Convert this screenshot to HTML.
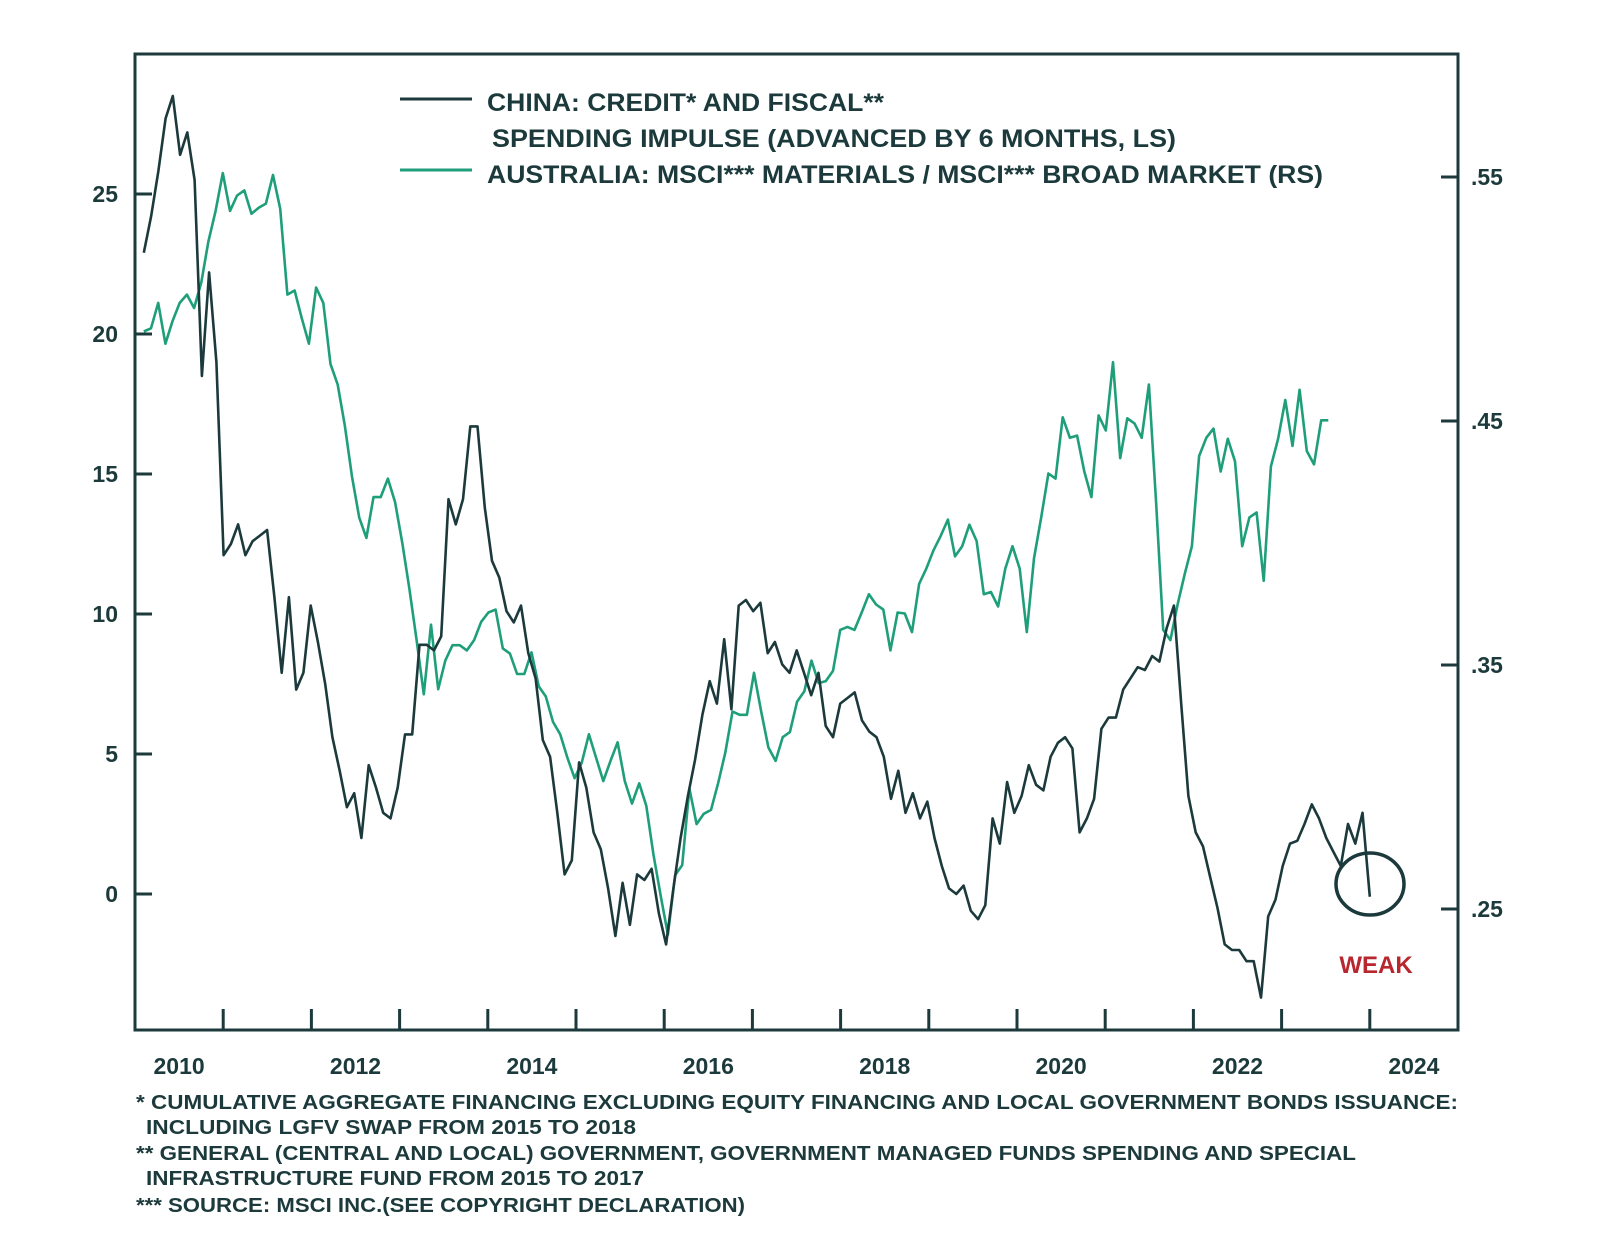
<!DOCTYPE html>
<html><head><meta charset="utf-8"><style>
html,body{margin:0;padding:0;background:#fff;}
svg{display:block;font-family:"Liberation Sans",sans-serif;}
</style></head><body>
<svg id="chart" width="1600" height="1256" viewBox="0 0 1600 1256" xmlns="http://www.w3.org/2000/svg">
<rect x="0" y="0" width="1600" height="1256" fill="#fff"/>
<g id="plot"></g>
<g font-weight="bold" font-size="25" fill="#1c3a3c">
<line x1="400" y1="99" x2="472" y2="99" stroke="#1c3a3c" stroke-width="3"/>
<text x="487" y="111" textLength="397" lengthAdjust="spacingAndGlyphs">CHINA: CREDIT* AND FISCAL**</text>
<text x="492" y="147" textLength="684" lengthAdjust="spacingAndGlyphs">SPENDING IMPULSE (ADVANCED BY 6 MONTHS, LS)</text>
<line x1="400" y1="170" x2="472" y2="170" stroke="#1f9e7a" stroke-width="3"/>
<text x="487" y="183" textLength="836" lengthAdjust="spacingAndGlyphs">AUSTRALIA: MSCI*** MATERIALS / MSCI*** BROAD MARKET (RS)</text>
</g>
<g font-weight="bold" font-size="20" fill="#1c3a3c">
<text x="136" y="1109" textLength="1322" lengthAdjust="spacingAndGlyphs">* CUMULATIVE AGGREGATE FINANCING EXCLUDING EQUITY FINANCING AND LOCAL GOVERNMENT BONDS ISSUANCE:</text>
<text x="146" y="1134" textLength="490" lengthAdjust="spacingAndGlyphs">INCLUDING LGFV SWAP FROM 2015 TO 2018</text>
<text x="136" y="1160" textLength="1220" lengthAdjust="spacingAndGlyphs">** GENERAL (CENTRAL AND LOCAL) GOVERNMENT, GOVERNMENT MANAGED FUNDS SPENDING AND SPECIAL</text>
<text x="146" y="1185" textLength="498" lengthAdjust="spacingAndGlyphs">INFRASTRUCTURE FUND FROM 2015 TO 2017</text>
<text x="136" y="1212" textLength="609" lengthAdjust="spacingAndGlyphs">***  SOURCE: MSCI INC.(SEE COPYRIGHT DECLARATION)</text>
</g>
<ellipse cx="1370" cy="884" rx="34" ry="31" fill="none" stroke="#1c3a3c" stroke-width="3.5"/>
<text x="1376" y="973" text-anchor="middle" font-weight="bold" font-size="24" fill="#b8262f">WEAK</text>
</svg>
<script>
const leftTicks = [0, 5, 10, 15, 20, 25];
const rightTicks = [0.25, 0.35, 0.45, 0.55];
const rightTickLabels = [".25", ".35", ".45", ".55"];
const yearLabels = [2010, 2012, 2014, 2016, 2018, 2020, 2022, 2024];
const yearTicks = [2011,2012,2013,2014,2015,2016,2017,2018,2019,2020,2021,2022,2023,2024];
const chinaStart = 2010.10;
const chinaEnd = 2024.0;
const chinaValues = [22.9,24.2,25.8,27.7,28.5,26.4,27.2,25.5,18.5,22.2,19.0,12.1,12.5,13.2,12.1,12.6,12.8,13.0,10.6,7.9,10.6,7.3,7.9,10.3,9.0,7.5,5.6,4.4,3.1,3.6,2.0,4.6,3.8,2.9,2.7,3.8,5.7,5.7,8.9,8.9,8.7,9.2,14.1,13.2,14.1,16.7,16.7,13.8,11.9,11.3,10.1,9.7,10.3,8.6,7.7,5.5,4.9,2.9,0.7,1.2,4.7,3.8,2.2,1.6,0.2,-1.5,0.4,-1.1,0.7,0.5,0.9,-0.7,-1.8,0.2,2.0,3.5,4.8,6.4,7.6,6.8,9.1,6.6,10.3,10.5,10.1,10.4,8.6,9.0,8.2,7.9,8.7,7.9,7.1,7.9,6.0,5.6,6.8,7.0,7.2,6.2,5.8,5.6,4.9,3.4,4.4,2.9,3.6,2.7,3.3,2.0,1.0,0.2,0.0,0.3,-0.6,-0.9,-0.4,2.7,1.8,4.0,2.9,3.5,4.6,3.9,3.7,4.9,5.4,5.6,5.2,2.2,2.7,3.4,5.9,6.3,6.3,7.3,7.7,8.1,8.0,8.5,8.3,9.5,10.3,6.8,3.5,2.2,1.7,0.6,-0.5,-1.8,-2.0,-2.0,-2.4,-2.4,-3.7,-0.8,-0.2,1.0,1.8,1.9,2.5,3.2,2.7,2.0,1.5,1.0,2.5,1.8,2.9,-0.1];
const ausStart = 2010.10;
const ausEnd = 2023.53;
const ausValues = [.4867,.4880,.4984,.4817,.4909,.4984,.5018,.4963,.5068,.5236,.5361,.5516,.5361,.5424,.5445,.5349,.5374,.5391,.5508,.5370,.5018,.5035,.4921,.4817,.5047,.4984,.4733,.4649,.4482,.4272,.4105,.4021,.4188,.4188,.4264,.4167,.4000,.3812,.3602,.3380,.3665,.3401,.3518,.3581,.3581,.3560,.3602,.3677,.3715,.3727,.3568,.3547,.3463,.3463,.3552,.3413,.3371,.3267,.3216,.3120,.3036,.3099,.3216,.3120,.3024,.3107,.3183,.3024,.2932,.3015,.2923,.2722,.2554,.2395,.2638,.2680,.2994,.2848,.2890,.2906,.3015,.3141,.3309,.3296,.3296,.3468,.3309,.3162,.3107,.3204,.3225,.3350,.3392,.3518,.3426,.3434,.3476,.3644,.3656,.3644,.3715,.3790,.3748,.3727,.3560,.3715,.3711,.3635,.3832,.3895,.3970,.4029,.4096,.3945,.3987,.4075,.4008,.3790,.3799,.3740,.3895,.3987,.3895,.3635,.3937,.4105,.4285,.4264,.4515,.4431,.4440,.4293,.4188,.4523,.4461,.4741,.4348,.4511,.4490,.4431,.4649,.4167,.3644,.3602,.3748,.3874,.3987,.4356,.4431,.4469,.4293,.4427,.4335,.3987,.4105,.4125,.3845,.4314,.4427,.4586,.4398,.4628,.4377,.4322,.4503,.4503];

const NS = "http://www.w3.org/2000/svg";
const DARK = "#1c3a3c", GREEN = "#1f9e7a";
const L = 135, R = 1458, T = 54, B = 1030;
function xScale(yr){ return L + (yr - 2010) * 88.2; }
function yLeft(v){ return 894 - v * 28; }
function yRight(v){ return 909 - (v - 0.25) * 2440; }
const plot = document.getElementById("plot");
function mk(tag, attrs, parent){ const e = document.createElementNS(NS, tag); for (const k in attrs) e.setAttribute(k, attrs[k]); (parent||plot).appendChild(e); return e; }

function seriesPath(vals, start, end, yf){
  const n = vals.length; let d = "";
  vals.forEach((v,i)=>{ const yr = start + (end-start)*i/(n-1); d += (i?"L":"M") + xScale(yr).toFixed(1) + "," + yf(v).toFixed(1); });
  return d;
}
const aus = mk("path", {d: seriesPath(ausValues, ausStart, ausEnd, yRight), fill:"none", stroke:GREEN, "stroke-width":"2.6", "stroke-linejoin":"round"});


const china = mk("path", {d: seriesPath(chinaValues, chinaStart, chinaEnd, yLeft), fill:"none", stroke:DARK, "stroke-width":"2.6", "stroke-linejoin":"round"});



const frame = mk("rect", {x:L, y:T, width:R-L, height:B-T, fill:"none", stroke:DARK, "stroke-width":"3"});



leftTicks.forEach(v=>{
  const y = yLeft(v);
  const t = mk("line", {x1:L, y1:y, x2:L+17, y2:y, stroke:DARK, "stroke-width":"3"});
  
  
  const lab = mk("text", {x:118, y:y+8, "text-anchor":"end", "font-size":"23", "font-weight":"bold", fill:DARK});
  lab.textContent = String(v);
  
  
});
rightTicks.forEach((v,i)=>{
  const y = yRight(v);
  const t = mk("line", {x1:R-17, y1:y, x2:R, y2:y, stroke:DARK, "stroke-width":"3"});
  
  
  const lab = mk("text", {x:1471, y:y+8, "font-size":"23", "font-weight":"bold", fill:DARK});
  lab.textContent = rightTickLabels[i];
  
  
});
yearTicks.forEach(yr=>{
  const x = xScale(yr);
  const t = mk("line", {x1:x, y1:B, x2:x, y2:B-21, stroke:DARK, "stroke-width":"3"});
  
  
});
yearLabels.forEach(yr=>{
  const lab = mk("text", {x:xScale(yr+0.5), y:1074, "text-anchor":"middle", "font-size":"23", "font-weight":"bold", fill:DARK});
  lab.textContent = String(yr);
  
  
});
</script>
</body></html>
